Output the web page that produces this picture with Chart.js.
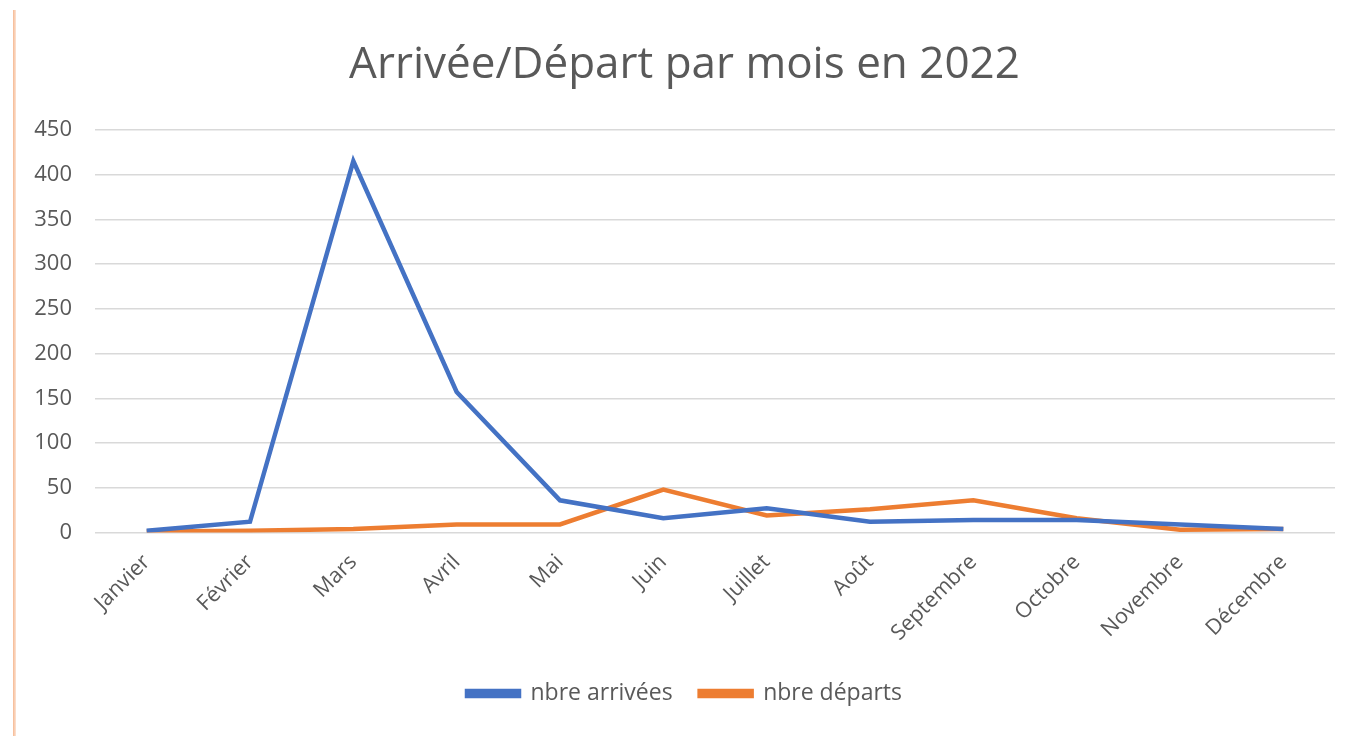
<!DOCTYPE html>
<html>
<head>
<meta charset="utf-8">
<script src="https://cdn.jsdelivr.net/npm/chart.js@4"></script>
<style>
    html, body { margin: 0; padding: 0; background: #fff; }
    .frame { position: relative; width: 1354px; height: 736px; }
    .edge { position: absolute; left: 13px; top: 10px; bottom: 0; width: 3px; background: linear-gradient(to right, #f5b993, #fde4d4); }
    canvas { position: absolute; left: 0; top: 0; }
</style>
</head>
<body>
<div class="frame">
    <div class="edge"></div>
    <canvas id="moisChart" width="1354" height="736"></canvas>
</div>
<script>
const mois = ['Janvier', 'Février', 'Mars', 'Avril', 'Mai', 'Juin', 'Juillet', 'Août', 'Septembre', 'Octobre', 'Novembre', 'Décembre'];
const arrivees = [2, 12, 415, 157, 36, 16, 27, 12, 14, 14, 9, 4];
const departs = [1, 2, 4, 9, 9, 48, 19, 26, 36, 16, 3, 4];

window.onload = function () {
    const ctx = document.getElementById('moisChart').getContext('2d');
    const grey = '#595959';

    new Chart(ctx, {
        type: 'line',
        data: {
            labels: mois,
            datasets: [{
                label: 'nbre arrivées',
                data: arrivees,
                borderColor: '#4472C4',
                backgroundColor: '#4472C4',
                borderWidth: 4.5,
                pointRadius: 0,
                tension: 0
            },
            {
                label: 'nbre départs',
                data: departs,
                borderColor: '#ED7D31',
                backgroundColor: '#ED7D31',
                borderWidth: 4.5,
                pointRadius: 0,
                tension: 0
            }]
        },
        options: {
            responsive: false,
            animation: false,
            layout: {
                padding: { top: 22, left: 34, right: 19, bottom: 21 }
            },
            scales: {
                x: {
                    offset: true,
                    grid: { display: false },
                    border: { display: false },
                    ticks: {
                        color: grey,
                        minRotation: 45,
                        maxRotation: 45,
                        padding: 9,
                        font: { family: 'Open Sans', size: 21.5 }
                    }
                },
                y: {
                    min: 0,
                    max: 450,
                    grid: { color: '#d9d9d9', lineWidth: 1.5, drawTicks: false },
                    border: { display: false },
                    ticks: {
                        stepSize: 50,
                        color: grey,
                        padding: 23,
                        font: { family: 'Open Sans', size: 22 }
                    },
                    // largeur fixe : libellés + marge, sans espace en trop
                    afterFit: function (scale) {
                        scale.width = 61;
                    }
                }
            },
            plugins: {
                title: {
                    display: true,
                    text: 'Arrivée/Départ par mois en 2022',
                    color: grey,
                    font: { family: 'Open Sans', size: 44, weight: 'normal' },
                    padding: { top: 17, bottom: 38 }
                },
                legend: {
                    position: 'bottom',
                    labels: {
                        color: grey,
                        boxWidth: 52,
                        boxHeight: 5,
                        padding: 27,
                        font: { family: 'Open Sans', size: 23, lineHeight: 0.8 }
                    }
                },
                tooltip: { enabled: false }
            }
        }
    });
};
</script>
</body>
</html>
